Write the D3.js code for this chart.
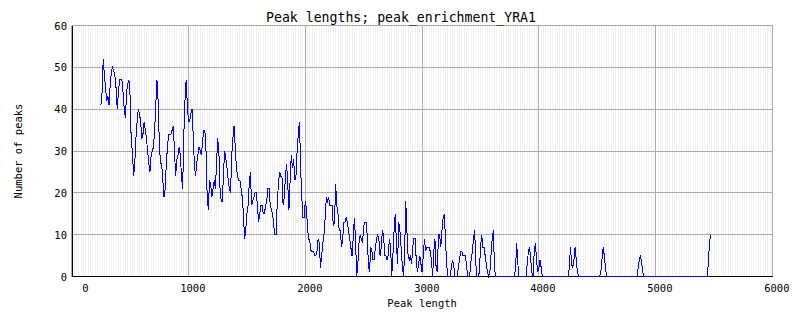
<!DOCTYPE html>
<html>
<head>
<meta charset="utf-8">
<script src="https://cdn.jsdelivr.net/npm/d3@7"></script>
<style>
  body { margin: 0; background: #fff; }
  text { font-family: "DejaVu Sans Mono", monospace; fill: #000; }
</style>
</head>
<body>
<div id="ch_peak_lengths"></div>
<script>
// histogram of peak lengths, 10 bp bins starting at 250
const binStart = 250
const binWidth = 10

// 250 .. 1390
const countsA = [
  41, 44, 52, 48, 45, 42, 43, 41, 46, 49,
  50, 49, 48, 45, 40, 44, 47, 47, 47, 44,
  40, 38, 44, 46, 47, 43, 32, 30, 24, 27,
  33, 37, 40, 39, 37, 33, 34, 37, 35, 33,
  30, 27, 25, 29, 30, 31, 35, 41, 47, 42,
  32, 27, 27, 23, 19, 21, 27, 31, 34, 34,
  34, 35, 36, 30, 24, 28, 29, 31, 29, 24,
  21, 34, 42, 47, 41, 37, 37, 39, 40, 34,
  27, 24, 27, 29, 31, 30, 29, 32, 35, 35,
  30, 19, 16, 23, 22, 19, 21, 23, 21, 27,
  33, 30, 21, 18, 18, 25, 30, 28, 26, 23,
  21, 20, 29, 33, 36
]
// 1400 .. 2540
const countsB = [
  31, 26, 24, 23, 23, 21, 19, 15, 9, 11,
  15, 17, 22, 25, 17, 18, 19, 20, 20, 17,
  13, 15, 17, 17, 15, 15, 17, 18, 21, 21,
  17, 16, 15, 12, 10, 10, 18, 22, 25, 24,
  24, 17, 19, 24, 27, 22, 16, 23, 29, 26,
  28, 23, 24, 30, 34, 37, 26, 19, 14, 14,
  18, 16, 11, 9, 8, 6, 6, 6, 5, 5,
  6, 9, 8, 2, 5, 8, 10, 14, 19, 18,
  19, 17, 17, 17, 12, 13, 22, 17, 15, 11,
  11, 7, 9, 13, 13, 14, 13, 11, 9, 7,
  5, 9, 14, 9, 0, 3, 8, 10, 9, 8,
  12, 13, 13, 10, 3
]
// 2550 .. 3630
const countsC = [
  1, 7, 6, 4, 4, 7, 9, 10, 9, 5,
  7, 11, 10, 5, 5, 4, 5, 9, 7, 0,
  5, 11, 15, 8, 3, 13, 11, 7, 3, 0,
  5, 18, 11, 5, 4, 5, 3, 7, 9, 9,
  4, 1, 3, 5, 3, 1, 5, 9, 6, 7,
  7, 7, 6, 4, 0, 6, 9, 2, 1, 10,
  10, 7, 11, 14, 15, 9, 3, 0, 0, 0,
  2, 4, 3, 0, 0, 0, 2, 4, 6, 6,
  5, 5, 5, 3, 0, 0, 1, 4, 6, 9,
  11, 3, 0, 0, 1, 7, 10, 7, 7, 5,
  3, 1, 0, 1, 5, 9, 11, 2, 0
]
// sparse tail up to 5470: bins not listed here are empty
const tailStarts = [3800, 3900, 4260, 4530, 4850, 5450]
const tailCounts = [
  [2, 8, 3],
  [3, 6, 7, 4, 1, 0, 6, 8, 4, 1, 2, 4, 2],
  [2, 7, 3, 2, 4, 7, 4, 1],
  [1, 4, 7, 5, 2],
  [2, 4, 5, 3, 1],
  [3, 8, 10]
]
const lastBin = 5470

const xTicks = [0, 1000, 2000, 3000, 4000, 5000, 6000]
const yTicks = [0, 10, 20, 30, 40, 50, 60]

const renderPeakLengths = ({htmlComponent, chartTitle}) => {
  const width = 802
  const height = 328
  const plot = {left: 71.7, right: 772.5, top: 25.5, bottom: 276.5}

  const dense = countsA.concat(countsB, countsC)
  const data = d3.range(binStart, lastBin + 1, binWidth).map((len, i) => {
    let count = 0
    if (i < dense.length) {
      count = dense[i]
    } else {
      tailStarts.forEach((s, j) => {
        const k = (len - s) / binWidth
        if (k >= 0 && k < tailCounts[j].length) count = tailCounts[j][k]
      })
    }
    return {len, count}
  })

  const svg = d3.select(htmlComponent).append('svg')
    .attr('width', width)
    .attr('height', height)
    .style('display', 'block')

  svg.append('rect')
    .attr('width', width).attr('height', height)
    .attr('fill', '#fff')

  const x = d3.scaleLinear().domain([0, 6000]).range([plot.left, plot.right])
  const y = d3.scaleLinear().domain([0, 60]).range([plot.bottom, plot.top])
  const px = v => Math.round(v - 0.5) + 0.5

  // faint minor verticals
  svg.append('g')
    .selectAll('line').data(d3.range(0, 6001, 20))
    .enter().append('line')
      .attr('x1', d => px(x(d))).attr('x2', d => px(x(d)))
      .attr('y1', plot.top).attr('y2', plot.bottom)
      .attr('stroke', '#f0f0f0')
      .attr('shape-rendering', 'crispEdges')

  // major grid
  const grid = svg.append('g')
    .attr('stroke', '#aaaaaa')
    .attr('shape-rendering', 'crispEdges')
  grid.selectAll('.gx').data(xTicks).enter().append('line')
    .attr('x1', d => px(x(d))).attr('x2', d => px(x(d)))
    .attr('y1', plot.top).attr('y2', plot.bottom)
  grid.selectAll('.gy').data(yTicks).enter().append('line')
    .attr('x1', plot.left).attr('x2', plot.right)
    .attr('y1', d => px(y(d))).attr('y2', d => px(y(d)))

  // axes lines
  const axes = svg.append('g')
    .attr('stroke', '#000')
    .attr('shape-rendering', 'crispEdges')
  axes.append('line')
    .attr('x1', 72.5).attr('x2', 72.5)
    .attr('y1', plot.top).attr('y2', plot.bottom + 0.5)
  axes.append('line')
    .attr('x1', 72).attr('x2', plot.right)
    .attr('y1', plot.bottom).attr('y2', plot.bottom)

  // series
  const line = d3.line()
    .x(d => x(d.len))
    .y(d => y(d.count))
  svg.append('path')
    .datum(data)
    .attr('d', line)
    .attr('fill', 'none')
    .attr('stroke', '#0000ff')
    .attr('stroke-width', 1)
    .attr('shape-rendering', 'crispEdges')

  // tick labels
  svg.append('g').selectAll('text').data(xTicks).enter().append('text')
    .attr('x', d => px(x(d)) + 17)
    .attr('y', 292)
    .attr('text-anchor', 'end')
    .attr('font-size', '10.5px')
    .text(d => d)

  svg.append('g').selectAll('text').data(yTicks).enter().append('text')
    .attr('x', 67)
    .attr('y', d => y(d) + 4)
    .attr('text-anchor', 'end')
    .attr('font-size', '10.5px')
    .text(d => d)

  // axis titles
  svg.append('text')
    .attr('x', (plot.left + plot.right) / 2)
    .attr('y', 307)
    .attr('text-anchor', 'middle')
    .attr('font-size', '10.5px')
    .text('Peak length')

  svg.append('text')
    .attr('transform', `translate(22, ${(plot.top + plot.bottom) / 2}) rotate(-90)`)
    .attr('text-anchor', 'middle')
    .attr('font-size', '10.5px')
    .text('Number of peaks')

  svg.append('text')
    .attr('x', 401)
    .attr('y', 22)
    .attr('text-anchor', 'middle')
    .attr('font-size', '13.2px')
    .text(chartTitle)
}

renderPeakLengths({
  htmlComponent: '#ch_peak_lengths',
  chartTitle: 'Peak lengths; peak_enrichment_YRA1'
})
</script>
</body>
</html>
